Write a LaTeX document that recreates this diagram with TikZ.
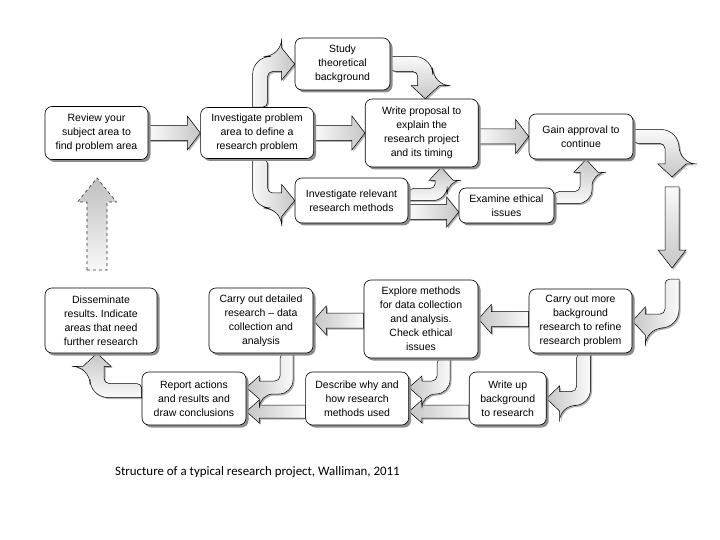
\documentclass[tikz,border=0pt]{standalone}
\usepackage{fontspec}
\setmainfont{Liberation Sans}
\newfontfamily\capfont{Carlito}
\usetikzlibrary{calc, positioning, shadows, backgrounds}

\begin{document}
\begin{tikzpicture}[
    x=1pt, y=-1pt,
    stage/.style={draw=black, line width=0.6pt, fill=white, rounded corners=7pt,
      align=center, inner sep=2pt, font=\fontsize{10.5}{14}\selectfont,
      drop shadow={shadow xshift=2.5pt, shadow yshift=-2.5pt, fill=black!45, opacity=1}},
    barrow/.style={draw=black, line width=0.5pt,
      drop shadow={shadow xshift=1.5pt, shadow yshift=-1.5pt, fill=black!30, opacity=1}},
    toR/.style={barrow, left color=gray!4, right color=gray!45},
    toL/.style={barrow, right color=gray!4, left color=gray!45},
    toD/.style={barrow, top color=gray!4, bottom color=gray!45},
    toU/.style={barrow, bottom color=gray!4, top color=gray!45},
    faint/.style={draw=black!80, line width=0.6pt, dashed, bottom color=gray!5, top color=gray!50},
    node distance=52pt,
  ]
  \useasboundingbox (0,0) rectangle (720,540);

  % upper half
  \node[stage, minimum width=103, minimum height=53] (rev) at (96.5,133) {Review your\\subject area to\\find problem area};
  \node[stage, minimum width=113, minimum height=51, right=of rev] (inv) {Investigate problem\\area to define a\\research problem};
  \node[stage, minimum width=95, minimum height=52] (stu) at (342.5,64) {Study\\theoretical\\background};
  \node[stage, minimum width=113, minimum height=68, right=51pt of inv] (wri) {Write proposal to\\explain the\\research project\\and its timing};
  \node[stage, minimum width=104, minimum height=45] (gai) at (581,136.5) {Gain approval to\\continue};
  \node[stage, minimum width=113, minimum height=45] (rel) at (351.5,200.5) {Investigate relevant\\research methods};
  \node[stage, minimum width=95, minimum height=35] (eth) at (506.5,205.5) {Examine ethical\\issues};

  % lower half
  \node[stage, minimum width=103, minimum height=64] (mor) at (580.5,321) {Carry out more\\background\\research to refine\\research problem};
  \node[stage, minimum width=114, minimum height=78] (exp) at (421,319) {Explore methods\\for data collection\\and analysis.\\Check ethical\\issues};
  \node[stage, minimum width=104, minimum height=65] (det) at (261,320.5) {Carry out detailed\\research -- data\\collection and\\analysis};
  \node[stage, minimum width=112, minimum height=65] (dis) at (101,320.5) {Disseminate\\results.\ Indicate\\areas that need\\further research};
  \node[stage, minimum width=104, minimum height=53] (rep) at (194,398.5) {Report actions\\and results and\\draw conclusions};
  \node[stage, minimum width=103, minimum height=53, right=59pt of rep] (des) {Describe why and\\how research\\methods used};
  \node[stage, minimum width=77, minimum height=53, right=60pt of des] (wup) {Write up\\background\\to research};

  \coordinate (d0) at (672,177);
  \coordinate (d1) at (672,187);
  \coordinate (d2) at (672,268);
  \coordinate (d3) at (672,279);
  \coordinate (u1) at (97,270);
  \coordinate (u2) at (97,178);

  \node[font=\capfont\fontsize{12.9}{15}\selectfont, anchor=base west, inner sep=0pt] (cap) at (115,475.5)
    {Structure of a typical research project, Walliman, 2011};

  \begin{scope}[on background layer]
    % straight block arrows
    \path[toR] ($(rev.east)+(0,-7.5)$) -- ($(inv.west)+(-13,-7.5)$) -- ++(0,-9.5) -- (inv.west) -- ++(-13,17) -- ++(0,-9.5) -- ($(rev.east)+(0,7.5)$) -- cycle;
    \path[toR] ($(inv.east)+(0,-7.5)$) -- ($(wri.west)+(-13,-7.5)$) -- ++(0,-9.5) -- (wri.west) -- ++(-13,17) -- ++(0,-9.5) -- ($(inv.east)+(0,7.5)$) -- cycle;
    \path[toR] ($(wri.east |- gai.west)+(0,-7.5)$) -- ($(gai.west)+(-13,-7.5)$) -- ++(0,-9.5) -- (gai.west) -- ++(-13,17) -- ++(0,-9.5) -- ($(wri.east |- gai.west)+(0,7.5)$) -- cycle;
    \path[toR] ($(rel.east)+(0,4)$) -- ($(eth.west)+(-12,-1)$) -- ++(0,-7.5) -- ($(eth.west)+(0,6.5)$) -- ++(-12,15) -- ++(0,-7.5) -- ($(rel.east)+(0,19)$) -- cycle;
    \path[toD] ($(d1)+(-7,0)$) -- ($(d2)+(-7,-18)$) -- ++(-7,0) -- (d2) -- ++(14,-18) -- ++(-7,0) -- ($(d1)+(7,0)$) -- cycle;
    \path[toL] ($(mor.west |- exp.east)+(0,-7.5)$) -- ($(exp.east)+(13,-7.5)$) -- ++(0,-7) -- (exp.east) -- ++(13,14.5) -- ++(0,-7) -- ($(mor.west |- exp.east)+(0,7.5)$) -- cycle;
    \path[toL] ($(exp.west |- det.east)+(0,-7.5)$) -- ($(det.east)+(13,-7.5)$) -- ++(0,-7) -- (det.east) -- ++(13,14.5) -- ++(0,-7) -- ($(exp.west |- det.east)+(0,7.5)$) -- cycle;
    \path[toL] ($(wup.west)+(0,6.5)$) -- ($(des.east)+(13,6.5)$) -- ++(0,-5) -- ($(des.east)+(0,13)$) -- ++(13,11.5) -- ++(0,-5) -- ($(wup.west)+(0,19.5)$) -- cycle;
    \path[toL] ($(des.west)+(0,6.5)$) -- ($(rep.east)+(13,6.5)$) -- ++(0,-5) -- ($(rep.east)+(0,13)$) -- ++(13,11.5) -- ++(0,-5) -- ($(des.west)+(0,19.5)$) -- cycle;
    \path[faint] ($(u1)+(-10,0)$) -- ($(u2)+(-10,24)$) -- ++(-9.5,0) -- (u2) -- ++(19.5,24) -- ++(-9.5,0) -- ($(u1)+(10,0)$) -- cycle;

    % bent block arrows
    \path[toR] ($(inv.north)+(-4.5,0)$) [rounded corners=18pt] |- ($(stu.west)+(-13,-7.5)$) [sharp corners] -- ++(0,-8.5) -- (stu.west) -- ++(-13,16) -- ++(0,-8.5) -- ++(-1,0) [rounded corners=5pt] -| ($(inv.north)+(10.5,0)$) [sharp corners] -- cycle;
    \path[toR] ($(inv.south)+(-4.5,0)$) [rounded corners=18pt] |- ($(rel.west)+(-13,7.5)$) [sharp corners] -- ++(0,8.5) -- (rel.west) -- ++(-13,-16) -- ++(0,8.5) -- ++(-1,0) [rounded corners=5pt] -| ($(inv.south)+(10.5,0)$) [sharp corners] -- cycle;
    \path[toD] ($(stu.east)+(0,-7.5)$) [rounded corners=18pt] -| ($(wri.north)+(11,-13)$) [sharp corners] -- ++(6.5,0) -- ($(wri.north)+(3.5,0)$) -- ++(-14,-13) -- ++(6.5,0) -- ++(0,-1) [rounded corners=5pt] |- ($(stu.east)+(0,7.5)$) [sharp corners] -- cycle;
    \path[toD] ($(gai.east)+(0,-7)$) [rounded corners=18pt] -| ($(d0)+(7,-13)$) [sharp corners] -- ++(7,0) -- (d0) -- ++(-14,-13) -- ++(7,0) -- ++(0,-1) [rounded corners=5pt] |- ($(gai.east)+(0,7)$) [sharp corners] -- cycle;
    \path[toU] (rel.east) [rounded corners=14pt] -| ($(wri.south)+(25.5,13)$) [sharp corners] -- ++(6,0) -- ($(wri.south)+(19.5,0)$) -- ++(-12,13) -- ++(6,0) -- ++(0,1) [rounded corners=5pt] |- ($(rel.east)+(0,-12)$) [sharp corners] -- cycle;
    \path[toU] ($(eth.east)+(0,-2)$) [rounded corners=14pt] -| ($(gai.south)+(11,13)$) [sharp corners] -- ++(6,0) -- ($(gai.south)+(5,0)$) -- ++(-12,13) -- ++(6,0) -- ++(0,1) [rounded corners=5pt] |- ($(eth.east)+(0,-14)$) [sharp corners] -- cycle;
    \path[toL] ($(d3)+(7,0)$) [rounded corners=18pt] |- ($(mor.east)+(13,7)$) [sharp corners] -- ++(0,7) -- (mor.east) -- ++(13,-14) -- ++(0,7) -- ++(1,0) [rounded corners=5pt] -| ($(d3)+(-7,0)$) [sharp corners] -- cycle;
    \path[toL] ($(mor.south)+(10,0)$) [rounded corners=16pt] |- ($(wup.east)+(13,7)$) [sharp corners] -- ++(0,5.5) -- (wup.east) -- ++(13,-12.5) -- ++(0,5.5) -- ++(1,0) [rounded corners=5pt] -| ($(mor.south)+(-4,0)$) [sharp corners] -- cycle;
    \path[toL] ($(exp.south)+(29,0)$) [rounded corners=14pt] |- ($(des.east)+(13,-4.5)$) [sharp corners] -- ++(0,5) -- ($(des.east)+(0,-11)$) -- ++(13,-11.5) -- ++(0,5) -- ++(1,0) [rounded corners=5pt] -| ($(exp.south)+(16,0)$) [sharp corners] -- cycle;
    \path[toL] ($(det.south)+(32,0)$) [rounded corners=14pt] |- ($(rep.east)+(13,-4.5)$) [sharp corners] -- ++(0,5) -- ($(rep.east)+(0,-11)$) -- ++(13,-11.5) -- ++(0,5) -- ++(1,0) [rounded corners=5pt] -| ($(det.south)+(19,0)$) [sharp corners] -- cycle;
    \path[toU] ($(rep.west)+(0,-1)$) [rounded corners=18pt] -| ($(dis.south)+(-11,13)$) [sharp corners] -- ++(-7,0) -- ($(dis.south)+(-4,0)$) -- ++(14,13) -- ++(-7,0) -- ++(0,1) [rounded corners=5pt] |- ($(rep.west)+(0,-15)$) [sharp corners] -- cycle;
  \end{scope}
\end{tikzpicture}
\end{document}
